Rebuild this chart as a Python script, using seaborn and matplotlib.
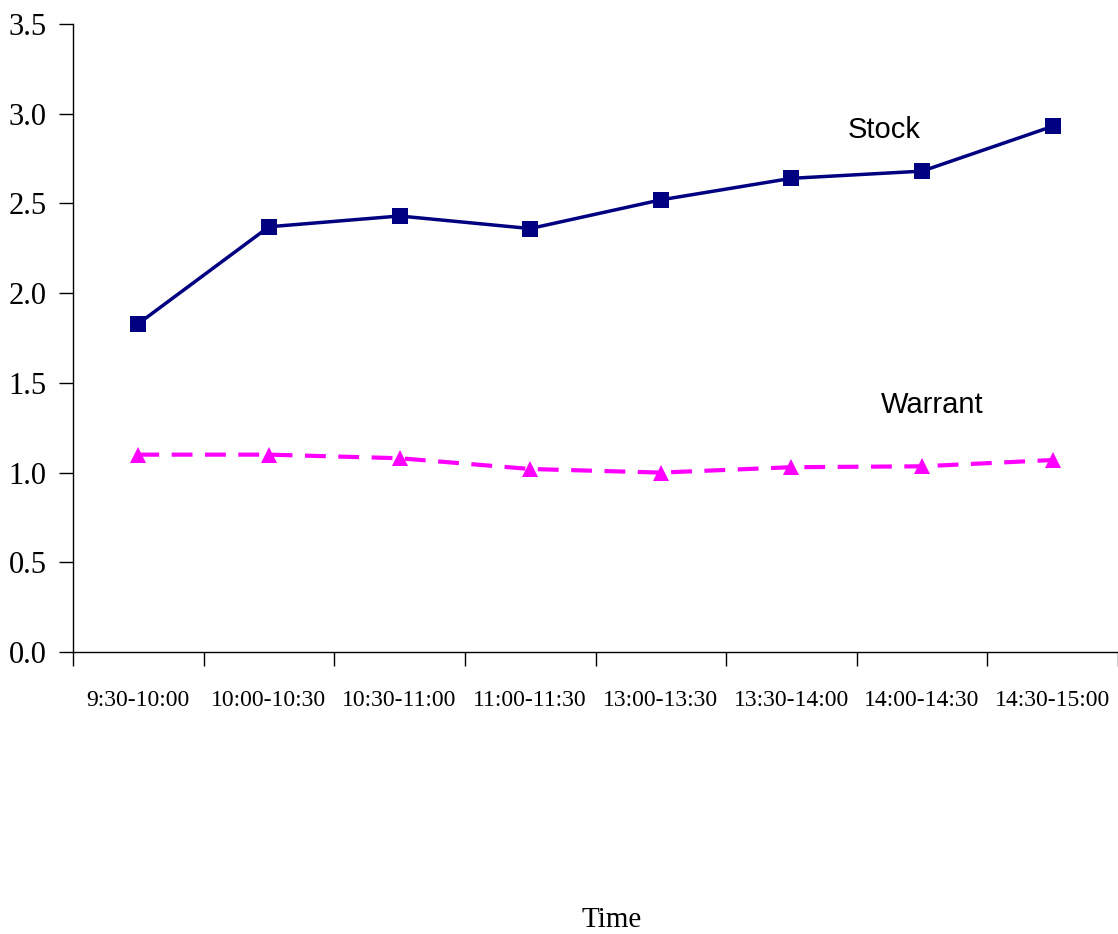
import pandas as pd
import matplotlib.pyplot as plt
import seaborn as sns
from matplotlib.ticker import FixedLocator, NullFormatter

# Datos
time_slots = ['9:30-10:00', '10:00-10:30', '10:30-11:00', '11:00-11:30',
              '13:00-13:30', '13:30-14:00', '14:00-14:30', '14:30-15:00']
stock = [1.83, 2.37, 2.43, 2.36, 2.52, 2.64, 2.68, 2.93]
warrant = [1.10, 1.10, 1.08, 1.02, 1.00, 1.03, 1.035, 1.07]

df = pd.DataFrame({
    'Time': time_slots * 2,
    'Value': stock + warrant,
    'Series': ['Stock'] * len(stock) + ['Warrant'] * len(warrant),
})

sns.set_style('white')
plt.rcParams['font.family'] = ['Liberation Serif', 'DejaVu Serif']
plt.rcParams['text.color'] = 'black'

fig = plt.figure(figsize=(11.18, 9.34), dpi=100)
ax = fig.add_axes([0.0653, 0.3019, 0.9347, 0.6724])

sns.lineplot(data=df, x='Time', y='Value', hue='Series', style='Series',
             palette={'Stock': '#000080', 'Warrant': '#FF00FF'},
             markers={'Stock': 's', 'Warrant': '^'},
             dashes={'Stock': '', 'Warrant': (5, 3)},
             markersize=11, markeredgewidth=0, legend=False, ax=ax, sort=False)
for line, lw in zip(ax.lines, [2.5, 3.0]):
    line.set_linewidth(lw)

ax.set_xlim(-0.5, 7.5)
ax.set_ylim(0, 3.5)
ax.set_yticks([0, 0.5, 1.0, 1.5, 2.0, 2.5, 3.0, 3.5])
ax.set_yticklabels([f'{v:.1f}' for v in ax.get_yticks()], fontsize=22)

# ticks en los límites de las categorías, etiquetas centradas
ax.xaxis.set_major_locator(FixedLocator([i - 0.5 for i in range(len(time_slots) + 1)]))
ax.xaxis.set_major_formatter(NullFormatter())
ax.xaxis.set_minor_locator(FixedLocator(range(len(time_slots))))
ax.set_xticklabels(time_slots, minor=True, fontsize=17)
ax.tick_params(axis='x', which='minor', bottom=True, length=0, pad=27)
ax.tick_params(axis='x', which='major', bottom=True, direction='out',
               length=10, width=1, color='black')
ax.tick_params(axis='y', left=True, direction='out', length=10, width=1,
               color='black', pad=9)
ax.tick_params(axis='both', which='both', labelcolor='black')

ax.set_xlabel('')
ax.set_ylabel('')
fig.text(612 / 1118, 1 - 920 / 934, 'Time', fontsize=21, ha='center', va='center')

for side in ['top', 'right']:
    ax.spines[side].set_visible(False)
for side in ['left', 'bottom']:
    ax.spines[side].set_color('black')
    ax.spines[side].set_linewidth(1)

ax.text(5.71, 2.91, 'Stock', family='Liberation Sans', fontsize=21,
        ha='center', va='center', color='black')
ax.text(6.08, 1.377, 'Warrant', family='Liberation Sans', fontsize=21,
        ha='center', va='center', color='black')

fig.savefig('out.png', dpi=100)
